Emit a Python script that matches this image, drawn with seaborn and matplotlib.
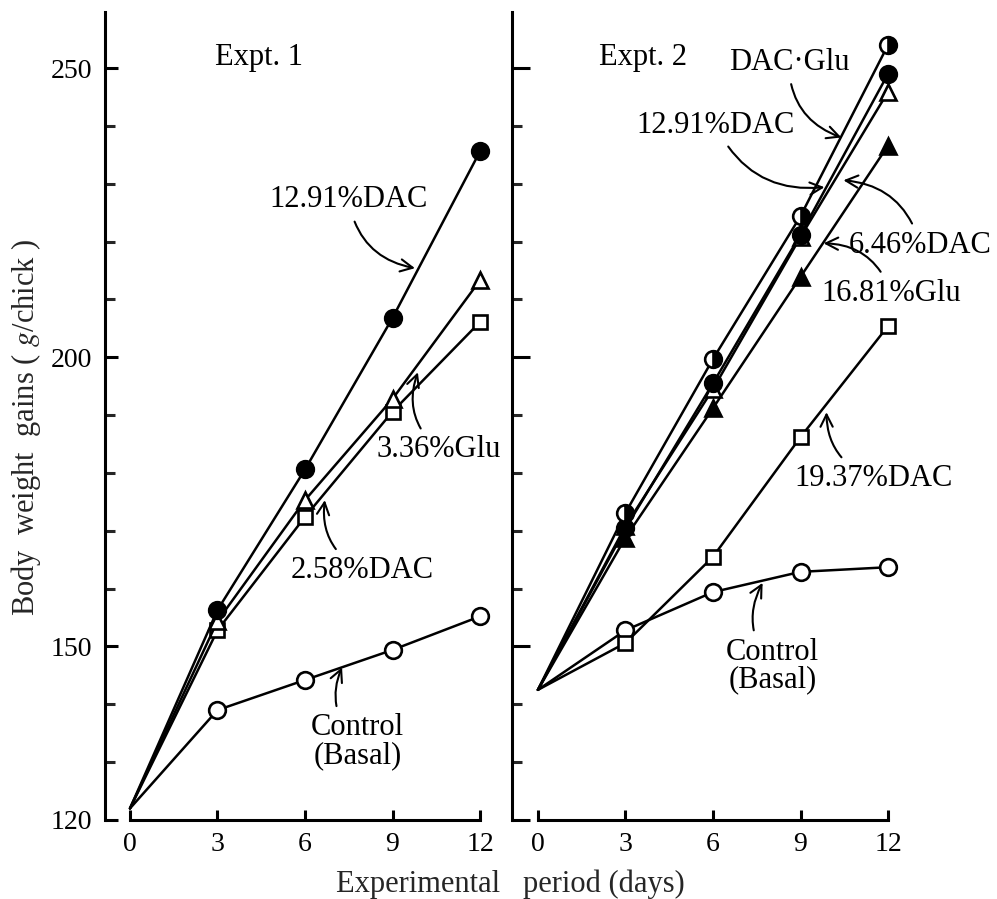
import numpy as np
import pandas as pd
import matplotlib
matplotlib.use("Agg")
import matplotlib.pyplot as plt
import seaborn as sns

# data
days = [0, 3, 6, 9, 12]

e1_dac1291 = [122, 156.3, 180.6, 206.8, 235.6]
e1_glu336 = [122, 154.4, 175.3, 192.8, 213.3]
e1_dac258 = [122, 152.8, 172.4, 190.6, 206.1]
e1_control = [122, 139.0, 144.2, 149.4, 155.2]

e2_dacglu = [142.5, 173.1, 199.7, 224.4, 254.0]
e2_dac1291 = [142.5, 170.4, 195.5, 221.2, 249.0]
e2_dac646 = [142.5, 170.8, 194.5, 220.8, 245.9]
e2_glu1681 = [142.5, 168.8, 191.2, 213.9, 236.6]
e2_dac1937 = [142.5, 150.6, 165.5, 186.2, 205.4]
e2_control = [142.5, 152.8, 159.4, 162.9, 163.7]

yticks_major = [120, 150, 200, 250]
yticks_minor = list(range(120, 260, 10))

sns.set_style("ticks")
plt.rcParams['font.family'] = ['Liberation Serif', 'DejaVu Serif']
plt.rcParams['mathtext.fontset'] = 'stix'

FS = 20      # tick labels
FA = 22      # annotations / axis labels
fig = plt.figure(figsize=(9.97, 8.99), dpi=100)
ax1 = fig.add_axes([0.1053, 0.0879, 0.3912, 0.8988])
ax2 = fig.add_axes([0.5135, 0.0879, 0.3942, 0.8988])

styles = {
    'filled_circle': dict(marker='o', markersize=12, markerfacecolor='black'),
    'open_circle': dict(marker='o', markersize=12, markerfacecolor='white'),
    'half_circle': dict(marker='o', markersize=12, markerfacecolor='black',
                        fillstyle='right', markerfacecoloralt='white'),
    'open_tri': dict(marker='^', markersize=12, markerfacecolor='white'),
    'filled_tri': dict(marker='^', markersize=12, markerfacecolor='black'),
    'open_square': dict(marker='s', markersize=10, markerfacecolor='white'),
}


def draw(ax, vals, st):
    # no marker at the common starting point (day 0)
    sns.lineplot(x=days, y=vals, ax=ax, color='black', linewidth=1.8,
                 markeredgecolor='black', markeredgewidth=1.9,
                 markevery=[1, 2, 3, 4], clip_on=False, **styles[st])


draw(ax1, e1_control, 'open_circle')
draw(ax1, e1_dac258, 'open_square')
draw(ax1, e1_glu336, 'open_tri')
draw(ax1, e1_dac1291, 'filled_circle')

draw(ax2, e2_control, 'open_circle')
draw(ax2, e2_dac1937, 'open_square')
draw(ax2, e2_glu1681, 'filled_tri')
draw(ax2, e2_dac646, 'open_tri')
draw(ax2, e2_dac1291, 'filled_circle')
draw(ax2, e2_dacglu, 'half_circle')

for ax, xl, majlen in [(ax1, (-0.857, 12.514), 9.5), (ax2, (-0.89, 12.58), 13)]:
    ax.set_xlim(*xl)
    ax.set_ylim(120, 259.7)
    ax.set_xticks(days)
    ax.set_yticks(yticks_major)
    ax.set_yticks(yticks_minor, minor=True)
    ax.spines['top'].set_visible(False)
    ax.spines['right'].set_visible(False)
    ax.spines['bottom'].set_bounds(0, 12)
    for s in ['left', 'bottom']:
        ax.spines[s].set_linewidth(2.2)
        ax.spines[s].set_color('black')
    ax.tick_params(axis='x', direction='in', length=7, width=2.2, pad=9,
                   labelsize=FS, colors='black')
    ax.tick_params(axis='y', which='major', direction='in', length=majlen,
                   width=2.2, pad=9, labelsize=FS, colors='black')
    ax.tick_params(axis='y', which='minor', direction='in', length=7.5,
                   width=2.2)
    ax.set_xlabel('')
    ax.set_ylabel('')
    ax.set_facecolor('white')

ax2.tick_params(axis='y', labelleft=False)

tk = dict(fontsize=FA, ha='center', va='center', color='black')
arr = dict(arrowstyle='->', color='black', lw=1.5,
           connectionstyle='arc3,rad=0.35', shrinkA=3, shrinkB=0)

ax1.text(4.42, 251.9, 'Expt. 1', **tk)
ax1.annotate('12.91%DAC', xy=(9.77, 215.4), xytext=(7.5, 227.2),
             arrowprops=arr, **tk)
ax1.annotate('3.36%Glu', xy=(9.87, 197.4), xytext=(10.6, 184.0),
             arrowprops=dict(arr, connectionstyle='arc3,rad=-0.35'), **tk)
ax1.annotate('2.58%DAC', xy=(6.68, 175.3), xytext=(7.95, 163.2),
             arrowprops=dict(arr, connectionstyle='arc3,rad=-0.35'), **tk)
ax1.annotate('Control\n(Basal)', xy=(7.27, 146.4), xytext=(7.8, 133.5),
             arrowprops=dict(arr, connectionstyle='arc3,rad=-0.35'),
             linespacing=0.95, **tk)

ax2.text(3.61, 251.9, 'Expt. 2', **tk)
ax2.annotate('DAC\u00b7Glu', xy=(10.4, 238.0), xytext=(8.6, 251.0),
             arrowprops=arr, annotation_clip=False, **tk)
ax2.annotate('12.91%DAC', xy=(9.82, 229.4), xytext=(6.1, 240.1),
             arrowprops=arr, annotation_clip=False, **tk)
ax2.annotate('6.46%DAC', xy=(10.47, 230.6), xytext=(13.1, 219.4),
             arrowprops=dict(arr, connectionstyle='arc3,rad=0.35'),
             annotation_clip=False, **tk)
ax2.annotate('16.81%Glu', xy=(9.79, 219.7), xytext=(12.1, 211.1),
             arrowprops=dict(arr, connectionstyle='arc3,rad=0.35'),
             annotation_clip=False, **tk)
ax2.annotate('19.37%DAC', xy=(9.89, 190.5), xytext=(11.5, 179.1),
             arrowprops=dict(arr, connectionstyle='arc3,rad=-0.35'),
             annotation_clip=False, **tk)
ax2.annotate('Control\n(Basal)', xy=(7.7, 161.0), xytext=(8.05, 146.6),
             arrowprops=dict(arr, connectionstyle='arc3,rad=-0.35'),
             linespacing=0.95, annotation_clip=False, **tk)

fig.text(0.026, 0.525, r'Body  weight  gains ( $\it{g}$/chick )', rotation=90,
         fontsize=FA, ha='center', va='center')
fig.text(0.512, 0.016, 'Experimental   period (days)', fontsize=FA,
         ha='center', va='center')

fig.savefig('out.png', dpi=100, facecolor='white')
